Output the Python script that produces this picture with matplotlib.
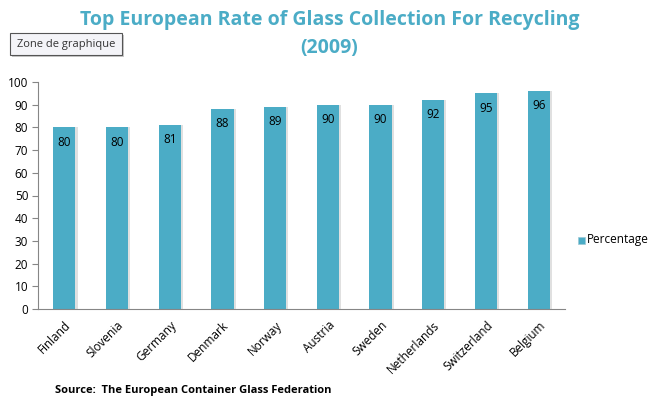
import matplotlib.pyplot as plt
from matplotlib.patches import Rectangle

countries = ['Finland', 'Slovenia', 'Germany', 'Denmark', 'Norway',
             'Austria', 'Sweden', 'Netherlands', 'Switzerland', 'Belgium']
percentage = [80, 80, 81, 88, 89, 90, 90, 92, 95, 96]
yticks = [0, 10, 20, 30, 40, 50, 60, 70, 80, 90, 100]

bar_color = '#4BACC6'
plt.rcParams['font.family'] = ['Open Sans', 'DejaVu Sans']

W, H = 659, 405
fig = plt.figure(figsize=(W / 100, H / 100), dpi=100)
ax = fig.add_axes([38 / W, 1 - 309 / H, (565 - 38) / W, (309 - 82) / H])

x = list(range(len(countries)))
# soft shadow behind the bars
ax.bar([i + 0.04 for i in x], percentage, width=0.42, color='#e0e0e0',
       zorder=1)
bars = ax.bar(x, percentage, width=0.42, color=bar_color, zorder=2,
              label='Percentage')
for b, v in zip(bars, percentage):
    ax.text(b.get_x() + b.get_width() / 2, v - 6.5, str(v), ha='center',
            va='center', fontsize=8.5, color='black', zorder=3)

ax.set_xlim(-0.5, len(countries) - 0.5)
ax.set_ylim(0, 100)
ax.set_yticks(yticks)
ax.set_xticks(x)
ax.set_xticklabels(countries, rotation=45, ha='right', rotation_mode='anchor',
                   fontsize=8.5)
ax.tick_params(axis='y', labelsize=8.5, length=4, color='#868686', pad=3)
ax.tick_params(axis='x', length=0, pad=7)
for s in ['top', 'right']:
    ax.spines[s].set_visible(False)
for s in ['left', 'bottom']:
    ax.spines[s].set_color('#868686')

fig.text(0.5, 1 - 20 / H, 'Top European Rate of Glass Collection For Recycling',
         ha='center', va='center', fontsize=14, fontweight='bold', color=bar_color)
fig.text(0.5, 1 - 48 / H, '(2009)', ha='center', va='center', fontsize=14,
         fontweight='bold', color=bar_color)

# tooltip box with a small drop shadow
fig.patches.append(Rectangle((12 / W, 1 - 57 / H), 112 / W, 22 / H,
                             transform=fig.transFigure, fc='#c8c8c8', ec='none'))
fig.patches.append(Rectangle((10 / W, 1 - 55 / H), 112 / W, 22 / H,
                             transform=fig.transFigure, fc='#f4f4f8', ec='#555555',
                             lw=0.8))
fig.text(66 / W, 1 - 44 / H, 'Zone de graphique', ha='center', va='center',
         fontsize=8, color='#333333')

fig.text(55 / W, 1 - 390 / H, 'Source:  The European Container Glass Federation',
         ha='left', va='center', fontsize=8, fontweight='bold', color='black')

# legend
fig.patches.append(Rectangle((578 / W, 1 - 244 / H), 7 / W, 7 / H,
                             transform=fig.transFigure, fc=bar_color, ec='#9cc9d6',
                             lw=0.5))
fig.text(587 / W, 1 - 240 / H, 'Percentage', ha='left', va='center',
         fontsize=8.5, color='black')

fig.savefig('out.png', dpi=100)
